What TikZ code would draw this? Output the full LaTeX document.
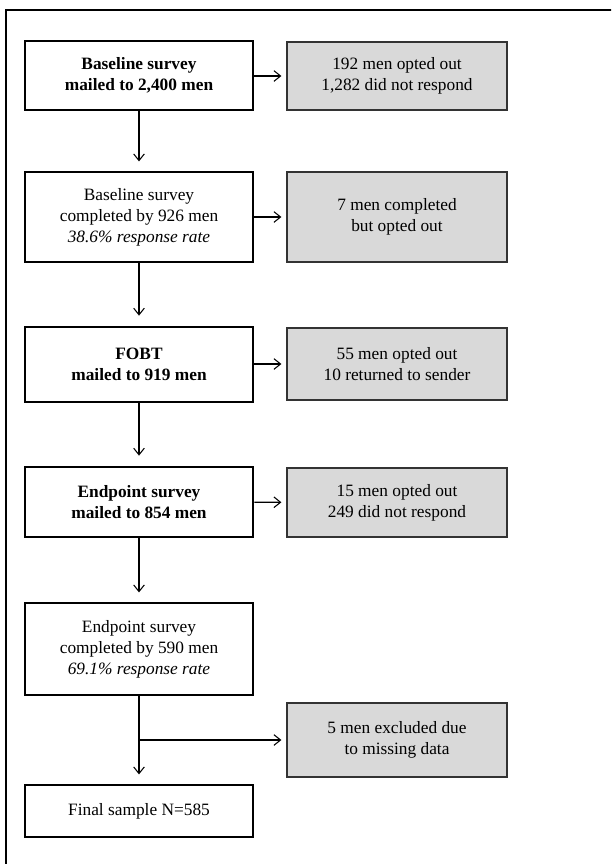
\documentclass[tikz,border=0pt]{standalone}
\usepackage{fontspec}
\setmainfont{Liberation Serif}
\usetikzlibrary{arrows.meta}

\tikzset{
  mainbox/.style={draw, line width=2pt, fill=white, minimum width=171pt, align=center, inner sep=2pt, font=\fontsize{13}{15.75}\selectfont\bfseries},
  plainbox/.style={draw, line width=0.9pt, fill=white, minimum width=171pt, align=center, inner sep=2pt, font=\fontsize{13}{15.75}\selectfont},
  outbox/.style={draw=black!80, line width=0.9pt, fill=black!15, minimum width=165pt, align=center, inner sep=2pt, font=\fontsize{13}{15.75}\selectfont},
  flow/.style={line width=0.8pt, -{Straight Barb[length=5pt,width=8pt]}},
}

\begin{document}
\begin{tikzpicture}[x=0.75pt,y=0.75pt,yscale=-1]
\useasboundingbox (0,0) rectangle (611,864);
\clip (0,0) rectangle (611,864);

%Shape: Frame
\draw [line width=1pt] (6,10) rectangle (640,900);

% Left column
\node (mailed) [mainbox, minimum height=51.75pt] at (139,75.5) {Baseline survey\\mailed to 2,400 men};
\node (baseline) [plainbox, minimum height=67.5pt] at (139,217) {Baseline survey\\completed by 926 men\\\textit{38.6\% response rate}};
\node (fobt) [mainbox, minimum height=56.25pt] at (139,364.5) {FOBT\\mailed to 919 men};
\node (endmail) [mainbox, minimum height=52.5pt] at (139,502) {Endpoint survey\\mailed to 854 men};
\node (endpoint) [plainbox, minimum height=69pt] at (139,649) {Endpoint survey\\completed by 590 men\\\textit{69.1\% response rate}};
\node (final) [plainbox, minimum height=39pt] at (139,811) {Final sample N=585};

% Right column
\node (optout) [outbox, minimum height=51pt] at (397,76) {192 men opted out\\1,282 did not respond};
\node (compout) [outbox, minimum height=67.5pt] at (397,217) {7 men completed\\but opted out};
\node (returned) [outbox, minimum height=54pt] at (397,364) {55 men opted out\\10 returned to sender};
\node (norespond) [outbox, minimum height=51.75pt] at (397,502.5) {15 men opted out\\249 did not respond};
\node (missing) [outbox, minimum height=55.5pt] at (397,740) {5 men excluded due\\to missing data};

% Connectors
\draw [flow, shorten >=7.5pt] (mailed) -- (baseline);
\draw [flow, shorten >=7.5pt] (baseline) -- (fobt);
\draw [flow, shorten >=7.5pt] (fobt) -- (endmail);
\draw [flow, shorten >=7.5pt] (endmail) -- (endpoint);
\draw [flow, shorten >=7.5pt] (endpoint) -- (final);

\draw [flow, shorten >=3.75pt] (mailed.east |- optout.west) -- (optout.west);
\draw [flow, shorten >=3.75pt] (baseline) -- (compout);
\draw [flow, shorten >=3.75pt] (fobt.east |- returned.west) -- (returned.west);
\draw [flow, shorten >=3.75pt] (endmail) -- (norespond);

\coordinate (split) at (endpoint.south |- missing.west);
\draw [flow, shorten >=3.75pt] (split) -- (missing.west);

\end{tikzpicture}
\end{document}
